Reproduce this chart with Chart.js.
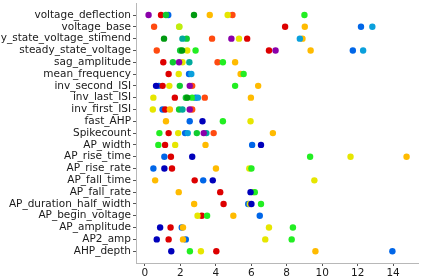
<!DOCTYPE html>
<html>
<head>
<meta charset="utf-8">
<script src="https://cdn.jsdelivr.net/npm/chart.js@4/dist/chart.umd.min.js"></script>
<style>
  html, body { margin: 0; padding: 0; background: #fff; }
  canvas { display: block; }
</style>
</head>
<body>
<canvas id="featureChart" width="422" height="278"></canvas>
<script>
const features = [
    'voltage_deflection', 'voltage_base', 'steady_state_voltage_stimend', 'steady_state_voltage',
    'sag_amplitude', 'mean_frequency', 'inv_second_ISI', 'inv_last_ISI', 'inv_first_ISI',
    'fast_AHP', 'Spikecount', 'AP_width', 'AP_rise_time', 'AP_rise_rate', 'AP_fall_time',
    'AP_fall_rate', 'AP_duration_half_width', 'AP_begin_voltage', 'AP_amplitude', 'AP2_amp', 'AHP_depth'
];
const xTicks = [0, 2, 4, 6, 8, 10, 12, 14];

const n = null;
// one value per feature (null = no point for that model)
const purple      = [0.21, n, 4.88, 7.37, 1.93, n, 2.53, n, 2.53, n, 3.32, n, n, n, n, n, n, n, n, n, n];
const darkblue    = [n, n, n, n, n, n, 0.63, n, n, 3.25, n, 6.55, 2.67, 1.10, 3.83, 5.96, 6.01, n, 0.86, 0.67, 1.49];
const blue        = [1.32, 12.19, n, 11.73, n, 2.49, 0.78, 2.86, 1.00, 2.53, 2.27, 6.05, 1.10, 0.48, 3.29, n, 5.83, 6.48, 2.08, 2.31, 13.96];
const cyan        = [n, 12.83, 8.74, 12.31, n, 2.62, n, 2.99, n, n, 2.42, n, n, n, n, n, n, n, n, n, n];
const teal        = [n, n, 2.12, n, 2.51, n, n, n, 2.12, n, 3.47, n, n, n, n, n, n, n, n, n, n];
const darkgreen   = [2.77, n, 1.08, 2.10, n, n, n, 2.39, n, n, n, n, n, n, n, n, n, n, n, n, n];
const green       = [1.19, n, 2.36, 1.99, 1.58, n, 1.97, 2.31, 1.93, n, 2.93, n, n, n, n, n, n, n, n, n, n];
const lime        = [9.00, n, n, 2.86, 4.40, 5.57, 5.09, 2.67, n, 4.40, 0.82, 0.76, 9.32, 6.01, n, 6.20, 6.55, 3.51, 8.35, 8.28, 2.54];
const yellowgreen = [n, 1.95, n, n, n, n, n, n, n, n, n, n, n, n, n, n, n, n, n, n, n];
const yellow      = [4.67, 1.93, 5.31, 2.39, 2.12, 1.91, 1.38, 0.48, 0.45, 5.96, 1.88, 1.71, 11.60, 5.89, 9.56, 6.11, 5.92, 2.97, 7.00, 6.79, 3.16];
const orange      = [3.66, 9.02, 8.89, 9.35, 5.09, 5.40, 6.39, 5.98, 1.41, 1.19, 7.22, 3.42, 14.76, 4.01, 0.58, 1.91, 2.78, 4.99, 2.15, 2.15, 9.62];
const orangered   = [4.94, 0.52, 3.79, 0.67, 4.10, n, 2.67, 3.38, 2.67, n, 3.88, n, n, n, n, n, n, n, n, n, n];
const red         = [0.91, 7.91, 5.77, 7.00, 1.04, 1.34, 1.00, 1.69, 1.15, n, 1.34, 1.14, 1.47, 1.53, 2.81, 4.25, 4.44, 3.21, 1.45, 1.34, 4.03];

const series = [
    { values: purple, color: '#8a00aa' },
    { values: darkblue, color: '#0000bb' },
    { values: cyan, color: '#0aa0dc' },
    { values: teal, color: '#00aa9c' },
    { values: darkgreen, color: '#009a10' },
    { values: green, color: '#10cc30' },
    { values: lime, color: '#22ee22' },
    { values: yellowgreen, color: '#bcee10' },
    { values: yellow, color: '#e6e600' },
    { values: orange, color: '#ffbb00' },
    { values: orangered, color: '#ff4a10' },
    { values: red, color: '#dd0000' },
    { values: blue, color: '#0066e8' }
];

const datasets = series.map(s => ({
    data: s.values.map((v, i) => v === null ? null : { x: v, y: i }).filter(p => p),
    backgroundColor: s.color,
    borderWidth: 0,
    pointRadius: 3.2,
    pointHoverRadius: 3.2
}));

const font = { family: 'DejaVu Sans', size: 10.5 };

new Chart(document.getElementById('featureChart'), {
    type: 'scatter',
    data: { datasets: datasets },
    options: {
        responsive: false,
        animation: false,
        layout: { padding: { top: 3, right: 0, bottom: 0, left: 0 } },
        plugins: { legend: { display: false }, tooltip: { enabled: false } },
        scales: {
            x: {
                type: 'linear',
                min: -0.5,
                max: 15.45,
                afterBuildTicks: scale => { scale.ticks = xTicks.map(v => ({ value: v })); },
                afterFit: scale => {
                    scale.height = 15;
                    scale.paddingLeft = 0; scale.paddingRight = 0;
                    scale.paddingTop = 0; scale.paddingBottom = 0;
                },
                grid: { drawOnChartArea: false, drawTicks: true, tickLength: 3, color: '#555' },
                border: { display: true, color: '#b8b8b8', width: 1 },
                ticks: { font: font, color: '#1a1a1a', padding: 1, maxRotation: 0, autoSkip: false }
            },
            y: {
                type: 'linear',
                reverse: true,
                min: -1,
                max: 21,
                afterBuildTicks: scale => { scale.ticks = features.map((f, i) => ({ value: i })); },
                afterFit: scale => {
                    scale.width = 136;
                    scale.paddingLeft = 0; scale.paddingRight = 0;
                    scale.paddingTop = 0; scale.paddingBottom = 0;
                },
                grid: { drawOnChartArea: false, drawTicks: true, tickLength: 3, color: '#555' },
                border: { display: true, color: '#b8b8b8', width: 1 },
                ticks: {
                    font: font, color: '#1a1a1a', padding: 2, autoSkip: false,
                    callback: v => features[v]
                }
            }
        }
    }
});
</script>
</body>
</html>
